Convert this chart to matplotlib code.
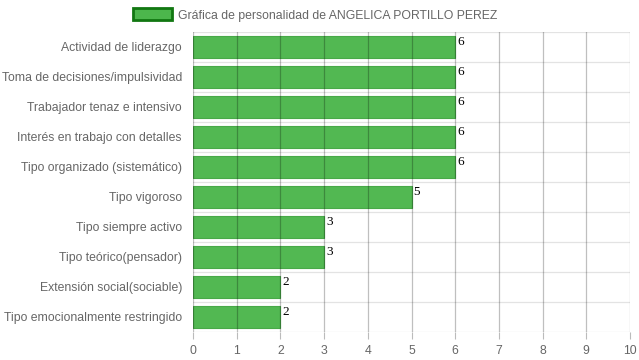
import matplotlib.pyplot as plt
from matplotlib.patches import Patch

plt.rcParams['font.family'] = ['Liberation Sans', 'DejaVu Sans']

categories = [
    'Actividad de liderazgo',
    'Toma de decisiones/impulsividad',
    'Trabajador tenaz e intensivo',
    'Interés en trabajo con detalles',
    'Tipo organizado (sistemático)',
    'Tipo vigoroso',
    'Tipo siempre activo',
    'Tipo teórico(pensador)',
    'Extensión social(sociable)',
    'Tipo emocionalmente restringido',
]
values = [6, 6, 6, 6, 6, 5, 3, 3, 2, 2]
series_name = 'Gráfica de personalidad de ANGELICA PORTILLO PEREZ'

fig = plt.figure(figsize=(6.39, 3.6), dpi=100)
ax = fig.add_axes([193 / 639, 28 / 360, 437 / 639, 300 / 360])

n = len(categories)
ypos = list(range(n))
ax.barh(ypos, values, height=0.72, color='#4CB64C', edgecolor='#45A845',
        linewidth=0.8, alpha=0.97, zorder=2)

ax.set_xlim(0, 10)
ax.set_ylim(n - 0.5, -0.5)
ax.set_xticks(range(0, 11))
ax.set_yticks(ypos)
ax.set_yticklabels(categories)

# vertical grid over bars (darker), horizontal separators (light)
for x in range(0, 11):
    ax.axvline(x, color='#000000', alpha=0.25, linewidth=0.9, zorder=3)
for b in [i - 0.5 for i in range(n + 1)]:
    ax.axhline(b, color='#e3e3e3', linewidth=0.9, zorder=1)

for s in ax.spines.values():
    s.set_visible(False)
ax.tick_params(axis='x', length=5, color='#bbbbbb', labelsize=8.8,
               labelcolor='#666666', pad=4)
ax.tick_params(axis='y', length=0, labelsize=8.8, labelcolor='#666666', pad=8)

for y, v in zip(ypos, values):
    ax.text(v + 0.05, y - 0.38, str(v), ha='left', va='top',
            fontsize=9.5, family='Liberation Serif', color='black', zorder=4)

handle = Patch(facecolor='#4CB64C', edgecolor='#117711', linewidth=2)
fig.legend([handle], [series_name], loc='center', bbox_to_anchor=(0.493, 1 - 15 / 360),
           frameon=False, fontsize=8.8, handlelength=3.2, handleheight=1.1,
           handletextpad=0.45, labelcolor='#666666')

fig.savefig('out.png', dpi=100)
